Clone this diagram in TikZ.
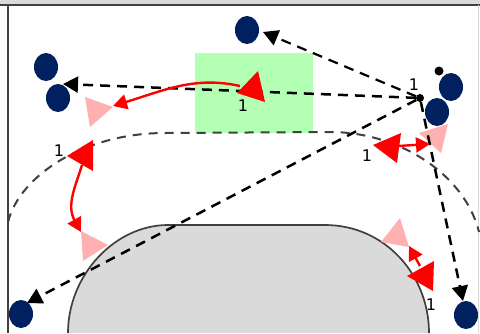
\documentclass[tikz,border=0pt]{standalone}
\usepackage{fontspec}
\setmainfont{DejaVu Sans}
\usetikzlibrary{arrows.meta,shapes.geometric}
\definecolor{navy}{HTML}{002060}
\definecolor{pinkish}{HTML}{FFB0B0}
\definecolor{lgreen}{HTML}{B3FFB3}
\definecolor{shapegray}{HTML}{DADADA}
\definecolor{edge}{HTML}{404040}
\tikzset{
  player/.style={ellipse,fill=navy,minimum width=24pt,minimum height=28pt,inner sep=0pt},
  dotnode/.style={circle,fill=black,inner sep=0pt,minimum size=#1},
  lbl/.style={font=\fontsize{16}{18}\selectfont,inner sep=0pt,text=black},
  blackarrow/.style={line width=2.5pt,dash pattern=on 10pt off 7pt,draw=black,-{Triangle[length=15pt,width=16pt,fill=black]}},
  redcurve/.style={line width=2.4pt,draw=red},
  redtip/.style={redcurve,-{Triangle[length=14pt,width=15pt,fill=red]}},
  pinktri/.style={fill=pinkish},
  redtri/.style={fill=red},
}
\begin{document}
\begin{tikzpicture}[x=1pt,y=-1pt]
\useasboundingbox (0,0) rectangle (480,333);
\fill[white] (0,0) rectangle (480,333);
% window edge
\fill[shapegray] (0,0) rectangle (480,4.5);
\draw[edge,line width=1.5pt] (0,5) -- (480,5);
\draw[edge,line width=1.5pt] (8,5) -- (8,333);
\draw[black!15,line width=1pt] (478.5,5) -- (478.5,333);
% zone and shape
\fill[lgreen] (195,53) rectangle (313,133);
\draw[edge,line width=1.7pt,fill=shapegray] (68,333) .. controls (68,275) and (115,225) .. (168,225) -- (325,225) .. controls (385,225) and (429,275) .. (429,333);
\draw[edge,line width=2pt,dash pattern=on 9pt off 7pt] (8,222) .. controls (20,175) and (85,133) .. (165,133) -- (330,132) .. controls (400,132) and (465,175) .. (479,232);
% pink triangles
\fill[pinktri] (85,97) -- (113,107) -- (90,127) -- cycle;
\fill[pinktri] (81,231) -- (108,245) -- (83,261) -- cycle;
\fill[pinktri] (419,133) -- (448,124) -- (441,153) -- cycle;
\fill[pinktri] (400,218) -- (381,242) -- (409,247) -- cycle;
% players
\node[player] (p1) at (46,67) {};
\node[player] (p2) at (58,98) {};
\node[player] (p3) at (247,30) {};
\node[player] (p4) at (451,87) {};
\node[player] (p5) at (437,112) {};
\node[player] (p6) at (21,314) {};
\node[player] (p7) at (466,315) {};
\node[dotnode=8pt] (ball) at (420,98) {};
\node[dotnode=9pt] (dot2) at (439,71) {};
% free ends
\coordinate (t1) at (63,84);
\coordinate (t2) at (263,32);
\coordinate (t3) at (27,303);
\coordinate (t4) at (463,301);
\coordinate (r1a) at (240,86);
\coordinate (r1b) at (113,106);
\coordinate (r2a) at (82,165);
\coordinate (r2b) at (81,232);
\coordinate (r3a) at (398,146);
\coordinate (r3b) at (430,144);
\coordinate (r4a) at (420,266);
\coordinate (r4b) at (409,246);
% black passes
\draw[blackarrow] (ball) -- (t1);
\draw[blackarrow,line width=2.2pt] (ball) -- (t2);
\draw[blackarrow] (ball) -- (t3);
\draw[blackarrow] (ball) -- (t4);
% red connectors
\draw[redtip] (r1a) .. controls (195,76) and (165,90) .. (r1b);
\draw[redtip] (r2a) .. controls (76,185) and (66,205) .. (r2b);
\draw[redtip] (r3a) -- (r3b);
\draw[redtip] (r4a) -- (r4b);
% big red triangles
\fill[redtri] (258,71) -- (237,93) -- (265,102) -- cycle;
\fill[redtri] (93,140) -- (67,156) -- (93,171) -- cycle;
\fill[redtri] (373,145) -- (401,133) -- (397,163) -- cycle;
\fill[redtri] (434,261) -- (407,276) -- (433,291) -- cycle;
% labels
\node[lbl] (l1) at (59,151) {1};
\node[lbl] (l2) at (243,106) {1};
\node[lbl] (l3) at (414,85) {1};
\node[lbl] (l4) at (367,156) {1};
\node[lbl] (l5) at (431,305) {1};
\end{tikzpicture}
\end{document}
